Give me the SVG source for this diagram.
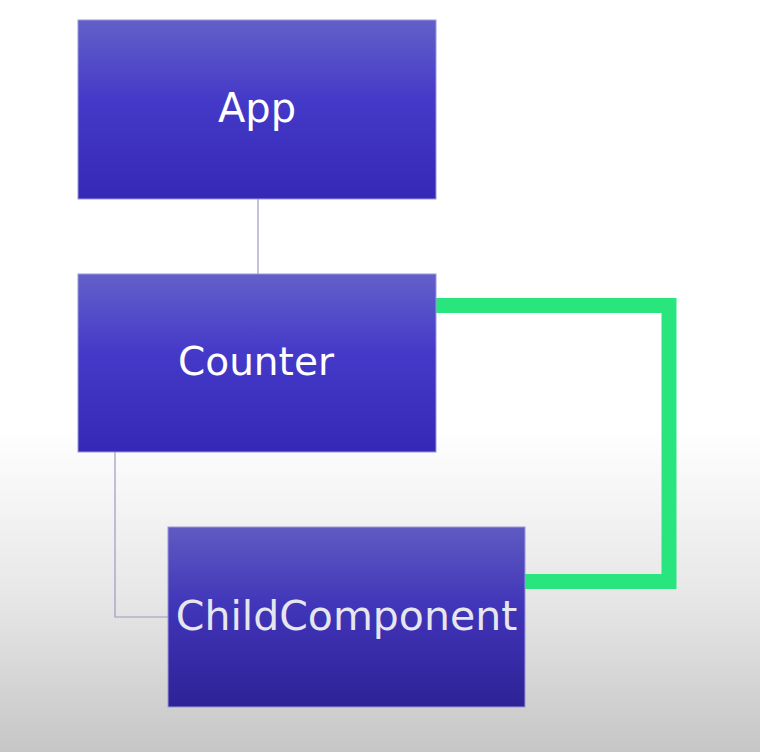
<svg xmlns="http://www.w3.org/2000/svg" width="760" height="752" viewBox="0 0 760 752">
<defs>
<linearGradient id="bg" x1="0" y1="0" x2="0" y2="752" gradientUnits="userSpaceOnUse">
<stop offset="0" stop-color="#ffffff"/>
<stop offset="0.57" stop-color="#ffffff"/>
<stop offset="0.8" stop-color="#e6e6e6"/>
<stop offset="1" stop-color="#c6c6c6"/>
</linearGradient>
<linearGradient id="box" x1="0" y1="0" x2="0" y2="1">
<stop offset="0" stop-color="#6360c9"/>
<stop offset="0.45" stop-color="#4439c8"/>
<stop offset="1" stop-color="#3628b6"/>
</linearGradient>
<linearGradient id="box2" x1="0" y1="0" x2="0" y2="1">
<stop offset="0" stop-color="#5f5bc2"/>
<stop offset="0.45" stop-color="#4034b8"/>
<stop offset="1" stop-color="#2e2296"/>
</linearGradient>
</defs>
<style>
.node rect{stroke:#9a97dc;stroke-width:1}
.lbl{font-family:"DejaVu Sans","Liberation Sans",sans-serif;fill:#ffffff;text-anchor:middle}
.thin{fill:none;stroke:#9c9abf;stroke-width:1.2}
.green{fill:none;stroke:#28e57d;stroke-width:15;stroke-linejoin:miter}
</style>
<rect x="0" y="0" width="760" height="752" fill="url(#bg)"/>
<g id="connectors">
<path class="thin" d="M258 199 V274"/>
<path class="thin" d="M115 452 V617 H168"/>
<path class="green" d="M436 305.5 H669 V581.5 H525"/>
</g>
<g id="node-app" class="node">
<rect x="78" y="20" width="358" height="179" fill="url(#box)"/>
<text class="lbl" x="257" y="122" font-size="40">App</text>
</g>
<g id="node-counter" class="node">
<rect x="78" y="274" width="358" height="178" fill="url(#box)"/>
<text class="lbl" x="256" y="375" font-size="39">Counter</text>
</g>
<g id="node-child" class="node">
<rect x="168" y="527" width="357" height="180" fill="url(#box2)"/>
<text class="lbl" x="346.5" y="630" font-size="41" fill="#e6e6ee" style="fill:#e6e6ee">ChildComponent</text>
</g>
</svg>
